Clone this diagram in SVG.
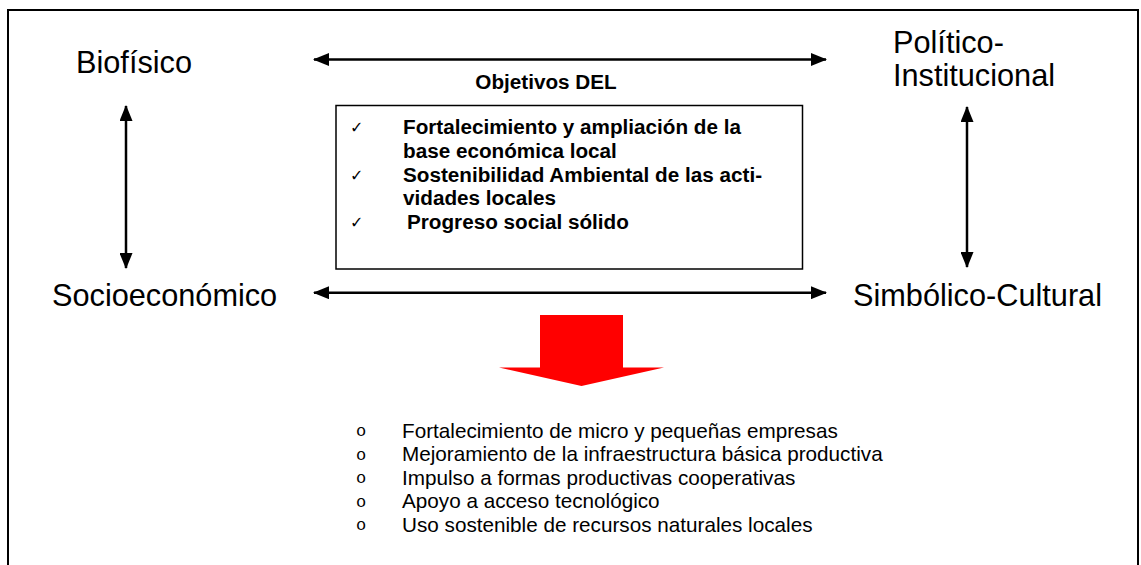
<svg xmlns="http://www.w3.org/2000/svg" width="1141" height="565" viewBox="0 0 1141 565">
  <style>
    .lbl { font-family: "Liberation Sans", Arial, sans-serif; font-size: 30.7px; fill: #000; }
    .bold { font-family: "Liberation Sans", Arial, sans-serif; font-size: 20.7px; font-weight: bold; fill: #000; }
    .item { font-family: "Liberation Sans", Arial, sans-serif; font-size: 20.7px; fill: #000; }
    .chk { font-family: "DejaVu Sans", sans-serif; font-size: 16px; fill: #000; }
    .bul { font-family: "Liberation Mono", "Courier New", monospace; font-size: 17px; fill: #000; }
    .conn { stroke: #000; stroke-width: 2.5; fill: none; marker-start: url(#ah); marker-end: url(#ah); }
  </style>
  <defs>
    <marker id="ah" viewBox="0 0 16 13" refX="15" refY="6.5" markerWidth="16" markerHeight="13" markerUnits="userSpaceOnUse" orient="auto-start-reverse">
      <path d="M0,0 L16,6.5 L0,13 Z" fill="#000"/>
    </marker>
  </defs>
  <rect width="1141" height="565" fill="#fff"/>
  <path d="M8,570 V10 H1138 V570" fill="none" stroke="#000" stroke-width="2"/>

  <g id="biofisico"><text class="lbl" x="76" y="73">Biofísico</text></g>
  <g id="politico">
    <text class="lbl" x="893" y="53">Político-</text>
    <text class="lbl" x="893" y="86">Institucional</text>
  </g>
  <g id="socioeconomico"><text class="lbl" x="52" y="306">Socioeconómico</text></g>
  <g id="simbolico"><text class="lbl" x="853" y="306">Simbólico-Cultural</text></g>

  <g id="objetivos">
    <text class="bold" x="546" y="89" text-anchor="middle">Objetivos DEL</text>
    <rect x="336" y="105.5" width="466.5" height="163.5" fill="#fff" stroke="#000" stroke-width="1.5"/>
    <text class="chk" x="350" y="133">✓</text>
    <text class="bold" x="403" y="134">Fortalecimiento y ampliación de la</text>
    <text class="bold" x="403" y="157.8">base económica local</text>
    <text class="chk" x="350" y="180.6">✓</text>
    <text class="bold" x="403" y="181.6">Sostenibilidad Ambiental de las acti-</text>
    <text class="bold" x="403" y="205.4">vidades locales</text>
    <text class="chk" x="350" y="228.2">✓</text>
    <text class="bold" x="407" y="229.2">Progreso social sólido</text>
  </g>

  <g id="red-arrow">
    <polygon points="540,315 623,315 623,367.5 664,367.5 581.5,386 499,367.5 540,367.5" fill="#ff0000"/>
  </g>

  <g id="acciones">
    <text class="bul" x="356" y="436">o</text>
    <text class="item" x="402" y="437.7">Fortalecimiento de micro y pequeñas empresas</text>
    <text class="bul" x="356" y="459.5">o</text>
    <text class="item" x="402" y="461.2">Mejoramiento de la infraestructura básica productiva</text>
    <text class="bul" x="356" y="483">o</text>
    <text class="item" x="402" y="484.7">Impulso a formas productivas cooperativas</text>
    <text class="bul" x="356" y="506.5">o</text>
    <text class="item" x="402" y="508.2">Apoyo a acceso tecnológico</text>
    <text class="bul" x="356" y="530">o</text>
    <text class="item" x="402" y="531.7">Uso sostenible de recursos naturales locales</text>
  </g>

  <g id="connectors">
    <line class="conn" x1="314" y1="59.5" x2="826" y2="59.5"/>
    <line class="conn" x1="314" y1="292.7" x2="826" y2="292.7"/>
    <line class="conn" x1="126" y1="106" x2="126" y2="268"/>
    <line class="conn" x1="967" y1="107" x2="967" y2="267"/>
  </g>
</svg>
